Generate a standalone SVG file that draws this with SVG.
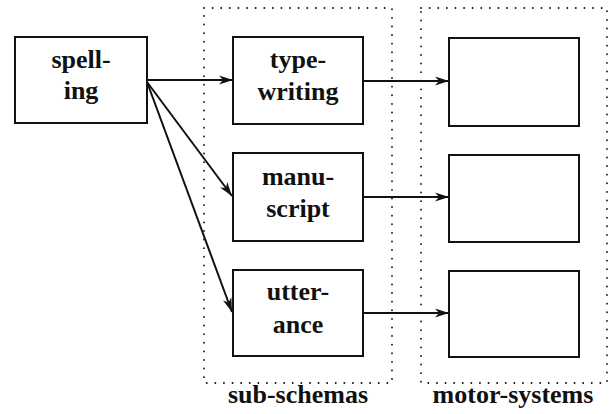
<svg xmlns="http://www.w3.org/2000/svg" width="613" height="414" viewBox="0 0 613 414">
  <defs>
    <marker id="arrow" viewBox="0 0 14 10" refX="14" refY="5" markerWidth="14" markerHeight="10" markerUnits="userSpaceOnUse" orient="auto">
      <path d="M0,0.5 L14,5 L0,9.5 L4,5 Z" fill="#111"/>
    </marker>
  </defs>
  <style>
    .box { fill: #fff; stroke: #111; stroke-width: 2; }
    .group { fill: none; stroke: #111; stroke-width: 1.8; stroke-dasharray: 0.1 8.5; stroke-linecap: round; }
    .edge { fill: none; stroke: #111; stroke-width: 2; marker-end: url(#arrow); }
    .label { font-family: "Liberation Serif", "DejaVu Serif", serif; font-weight: bold; font-size: 26px; fill: #111; text-anchor: middle; }
  </style>
  <rect width="613" height="414" fill="#fff"/>

  <!-- dotted enclosures -->
  <g id="sub-schemas">
    <rect class="group" x="204" y="8" width="188" height="375"/>
    <text class="label" x="298" y="403">sub-schemas</text>
  </g>
  <g id="motor-systems">
    <rect class="group" x="421" y="8" width="186" height="375"/>
    <text class="label" x="513" y="403">motor-systems</text>
  </g>

  <g id="spelling">
    <rect class="box" x="15" y="37" width="132" height="86"/>
    <text class="label" x="81" y="68">spell-</text>
    <text class="label" x="81" y="99">ing</text>
  </g>

  <g id="typewriting">
    <rect class="box" x="233" y="37" width="130" height="87"/>
    <text class="label" x="298" y="68">type-</text>
    <text class="label" x="298" y="100">writing</text>
  </g>
  <g id="manuscript">
    <rect class="box" x="233" y="153" width="130" height="88"/>
    <text class="label" x="298" y="185">manu-</text>
    <text class="label" x="298" y="217">script</text>
  </g>
  <g id="utterance">
    <rect class="box" x="233" y="270" width="130" height="86"/>
    <text class="label" x="298" y="300">utter-</text>
    <text class="label" x="298" y="333">ance</text>
  </g>

  <g id="motor-1"><rect class="box" x="449" y="38" width="130" height="88"/></g>
  <g id="motor-2"><rect class="box" x="449" y="155" width="130" height="87"/></g>
  <g id="motor-3"><rect class="box" x="449" y="271" width="130" height="86"/></g>

  <g id="connectors">
    <line class="edge" x1="147" y1="80" x2="233" y2="80"/>
    <line class="edge" x1="147" y1="82" x2="232" y2="196"/>
    <line class="edge" x1="147" y1="82" x2="232" y2="312"/>
    <line class="edge" x1="363" y1="81" x2="449" y2="81"/>
    <line class="edge" x1="363" y1="197" x2="449" y2="197"/>
    <line class="edge" x1="363" y1="313" x2="449" y2="313"/>
  </g>
</svg>
